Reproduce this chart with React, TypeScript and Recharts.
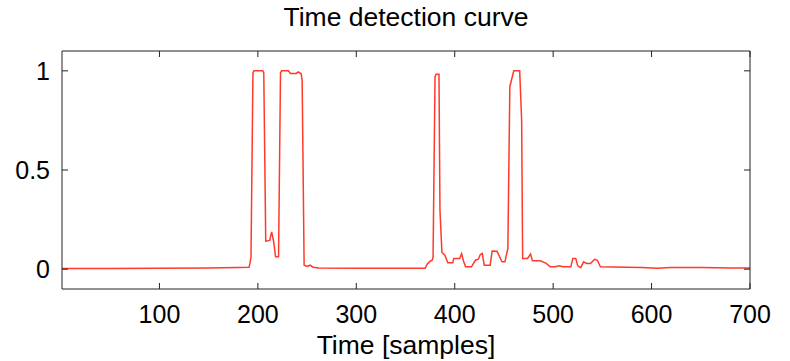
import React from 'react';
import { LineChart, Line, XAxis, YAxis, Label } from 'recharts';

// sample index and detection value
const samples = [
  1, 50, 100, 150, 180, 191, 192, 193, 195, 196, 205, 206, 208, 212, 214, 216, 218, 221, 223, 224,
  231, 233, 239, 241, 244, 245, 247, 250, 253, 256, 262, 300, 350, 370, 372, 375, 377, 378, 380, 381,
  384, 385, 387, 390, 393, 398, 399, 405, 407, 409, 411, 417, 421, 424, 426, 428, 430, 436, 438, 443,
  448, 451, 454, 456, 460, 466, 468, 469, 474, 477, 479, 487, 493, 497, 502, 506, 510, 518, 520, 523,
  525, 528, 531, 534, 538, 542, 545, 548, 575, 590, 600, 606, 620, 650, 680, 700,
];
const detection = [
  0.003, 0.003, 0.004, 0.006, 0.008, 0.009, 0.03, 0.06, 0.99, 1.0, 1.0, 0.99, 0.141, 0.145, 0.188, 0.14, 0.062, 0.062, 0.99, 1.0,
  1.0, 0.987, 0.987, 0.995, 0.985, 0.95, 0.02, 0.014, 0.02, 0.01, 0.006, 0.005, 0.004, 0.004, 0.025, 0.04, 0.045, 0.06, 0.97, 0.983,
  0.983, 0.3, 0.084, 0.07, 0.032, 0.032, 0.054, 0.054, 0.078, 0.04, 0.012, 0.012, 0.045, 0.05, 0.074, 0.079, 0.02, 0.02, 0.091, 0.09,
  0.037, 0.037, 0.104, 0.92, 1.0, 1.0, 0.75, 0.054, 0.054, 0.076, 0.042, 0.042, 0.029, 0.012, 0.012, 0.017, 0.012, 0.012, 0.054, 0.054,
  0.017, 0.008, 0.037, 0.029, 0.029, 0.05, 0.045, 0.012, 0.01, 0.009, 0.006, 0.004, 0.008, 0.008, 0.006, 0.006,
];
const xTicks = [100, 200, 300, 400, 500, 600, 700];
const yTicks = [0, 0.5, 1];

const data = samples.map((s, i) => ({ t: s, v: detection[i] }));

const font = '"Liberation Sans", Arial, Helvetica, sans-serif';
const tickStyle = { fill: '#000', fontSize: 25, fontFamily: font };
const labelStyle = { fill: '#000', fontSize: 26.5, fontFamily: font };
const axisStroke = '#222';

// mirrored axes only need the tick marks, no labels
const NoLabel = () => <g />;

export default function App() {
  return (
    <div style={{ position: 'absolute', left: 0, top: 0, width: 790, height: 361, background: '#fff' }}>
      <LineChart width={790} height={361} data={data} margin={{ top: 50, right: 39, bottom: 0, left: 0 }}>
        <XAxis
          xAxisId="bottom"
          dataKey="t"
          type="number"
          domain={[1, 700]}
          ticks={xTicks}
          height={72}
          tickSize={-6}
          tickMargin={22}
          stroke={axisStroke}
          tick={tickStyle}
        >
          <Label value="Time [samples]" position="insideBottom" offset={7} style={labelStyle} />
        </XAxis>
        <XAxis
          xAxisId="top"
          orientation="top"
          dataKey="t"
          type="number"
          domain={[1, 700]}
          ticks={xTicks}
          height={1}
          tickSize={-6}
          tick={NoLabel}
          stroke={axisStroke}
          allowDataOverflow
        >
          <Label value="Time detection curve" position="top" offset={24} style={labelStyle} />
        </XAxis>
        <YAxis
          yAxisId="left"
          type="number"
          domain={[-0.1, 1.1]}
          ticks={yTicks}
          width={62}
          tickSize={-6}
          tickMargin={18}
          stroke={axisStroke}
          tick={tickStyle}
          allowDataOverflow
        />
        <YAxis
          yAxisId="right"
          orientation="right"
          type="number"
          domain={[-0.1, 1.1]}
          ticks={yTicks}
          width={1}
          tickSize={-6}
          tick={NoLabel}
          stroke={axisStroke}
          allowDataOverflow
        />
        {/* invisible copy so the top and right box axes get drawn */}
        <Line
          xAxisId="top"
          yAxisId="right"
          dataKey="v"
          stroke="none"
          dot={false}
          activeDot={false}
          isAnimationActive={false}
        />
        <Line
          xAxisId="bottom"
          yAxisId="left"
          dataKey="v"
          type="linear"
          stroke="#ff3a2a"
          strokeWidth={1.5}
          dot={false}
          isAnimationActive={false}
        />
      </LineChart>
    </div>
  );
}
